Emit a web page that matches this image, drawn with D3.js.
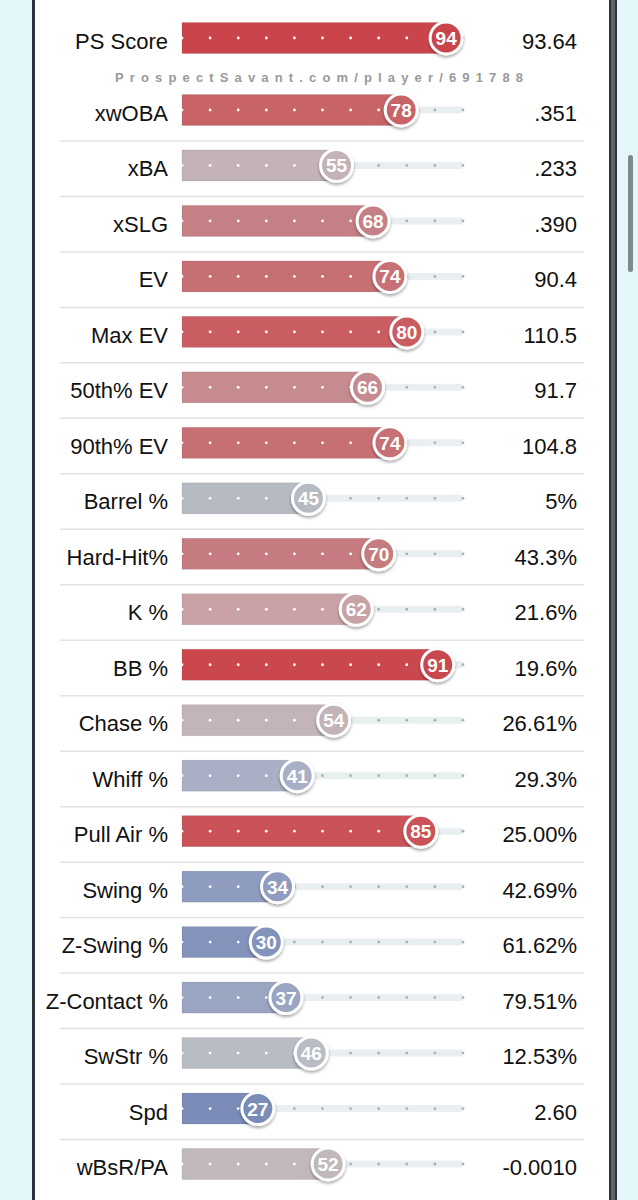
<!DOCTYPE html>
<html>
<head>
<meta charset="utf-8">
<script src="https://cdn.jsdelivr.net/npm/d3@7"></script>
<style>
  html, body { margin: 0; padding: 0; background: #e3f7fb; }
  svg { display: block; }
</style>
</head>
<body>
<svg id="chart" width="638" height="1200"></svg>
<script>
const labels = ["PS Score", "xwOBA", "xBA", "xSLG", "EV", "Max EV", "50th% EV", "90th% EV",
  "Barrel %", "Hard-Hit%", "K %", "BB %", "Chase %", "Whiff %", "Pull Air %", "Swing %",
  "Z-Swing %", "Z-Contact %", "SwStr %", "Spd", "wBsR/PA"];
const percentiles = [94, 78, 55, 68, 74, 80, 66, 74, 45, 70, 62, 91, 54, 41, 85, 34, 30, 37, 46, 27, 52];
const statValues = ["93.64", ".351", ".233", ".390", "90.4", "110.5", "91.7", "104.8", "5%", "43.3%",
  "21.6%", "19.6%", "26.61%", "29.3%", "25.00%", "42.69%", "61.62%", "79.51%", "12.53%", "2.60", "-0.0010"];
const tickValues = [0, 10, 20, 30, 40, 50, 60, 70, 80, 90, 100];
const watermark = "ProspectSavant.com/player/691788";

// percentile -> colour stops (blue low, grey middle, red high)
const colorDomain = [27, 34, 41, 46, 52, 55, 62, 68, 74, 80, 92];
const colorRange = ["#7b8cb8", "#8e9cc0", "#a9b0c5", "#b8bcc3", "#c0b8ba", "#c4b3b6",
  "#c9a2a5", "#c48084", "#c77074", "#c95d62", "#ca454b"];

const svg = d3.select("#chart");

// phone frame around the card
svg.append("rect").attr("x", 0).attr("y", 0).attr("width", 638).attr("height", 1200).attr("fill", "#e3f7fb");
svg.append("rect").attr("x", 32).attr("y", 0).attr("width", 585).attr("height", 1200).attr("fill", "#2e333d");
svg.append("rect").attr("x", 611).attr("y", 0).attr("width", 4).attr("height", 1200).attr("fill", "#5c636b");
svg.append("rect").attr("x", 35).attr("y", 0).attr("width", 574).attr("height", 1200).attr("fill", "#ffffff");
svg.append("rect").attr("x", 628).attr("y", 155).attr("width", 5).attr("height", 117).attr("rx", 2.5).attr("fill", "#7e8b8c");

const defs = svg.append("defs");
const shadow = defs.append("filter").attr("id", "shadow").attr("x", "-50%").attr("y", "-50%").attr("width", "200%").attr("height", "200%");
shadow.append("feDropShadow").attr("dx", 0).attr("dy", 2).attr("stdDeviation", 1.6)
  .attr("flood-color", "#000").attr("flood-opacity", 0.35);

const x = d3.scaleLinear().domain([0, 100]).range([182, 463]);
const y = d3.scaleLinear().domain([0, 1, 20]).range([38, 110, 1164]);
const color = d3.scaleLinear().domain(colorDomain).range(colorRange).clamp(true);

const rows = labels.map((label, i) => ({ label, pct: percentiles[i], value: statValues[i], i }));

// separators between rows (none between PS Score and xwOBA, the watermark sits there)
svg.append("g").selectAll("line")
  .data(rows.filter(d => d.i >= 2))
  .enter().append("line")
  .attr("x1", 60).attr("x2", 584)
  .attr("y1", d => y(d.i) - 24.5).attr("y2", d => y(d.i) - 24.5)
  .attr("stroke", "#e2e2e2").attr("stroke-width", 1.5);

svg.append("text")
  .attr("x", 115).attr("y", 82)
  .attr("textLength", 408).attr("lengthAdjust", "spacing")
  .style("font-family", "Liberation Sans, Arial, sans-serif")
  .style("font-size", "13px").style("font-weight", "bold")
  .attr("fill", "#999999")
  .text(watermark);

const row = svg.append("g").selectAll("g")
  .data(rows)
  .enter().append("g")
  .attr("transform", d => "translate(0," + y(d.i) + ")");

// track
row.append("rect")
  .attr("x", x(0)).attr("y", -3.5)
  .attr("width", x(100) - x(0)).attr("height", 7)
  .attr("rx", 2)
  .attr("fill", "#e9eef0");

// bar
row.append("rect")
  .attr("x", x(0)).attr("y", -15.5)
  .attr("width", d => x(d.pct) - x(0)).attr("height", 31)
  .attr("fill", d => color(d.pct))
  .attr("stroke", "rgba(0,0,0,0.1)").attr("stroke-width", 0.8);

// tick dots
row.each(function (d) {
  d3.select(this).append("g").selectAll("circle")
    .data(tickValues)
    .enter().append("circle")
    .attr("cx", t => x(t)).attr("cy", 0).attr("r", 1.4)
    .attr("fill", t => t <= d.pct ? "#ffffff" : "#a9b0b4");
});

// percentile bubble
row.append("circle")
  .attr("cx", d => x(d.pct)).attr("cy", 0).attr("r", 16)
  .attr("fill", d => color(d.pct))
  .attr("stroke", "#ffffff").attr("stroke-width", 3)
  .attr("filter", "url(#shadow)");

row.append("text")
  .attr("x", d => x(d.pct)).attr("y", 7)
  .style("text-anchor", "middle")
  .style("font-family", "Liberation Sans, Arial, sans-serif")
  .style("font-size", "19px").style("font-weight", "bold")
  .attr("fill", "#ffffff")
  .text(d => d.pct);

row.append("text")
  .attr("x", 168).attr("y", 11)
  .style("text-anchor", "end")
  .style("font-family", "Liberation Sans, Arial, sans-serif")
  .style("font-size", "22px")
  .attr("fill", "#111111")
  .text(d => d.label);

row.append("text")
  .attr("x", 577).attr("y", 11)
  .style("text-anchor", "end")
  .style("font-family", "Liberation Sans, Arial, sans-serif")
  .style("font-size", "22px")
  .attr("fill", "#111111")
  .text(d => d.value);
</script>
</body>
</html>
